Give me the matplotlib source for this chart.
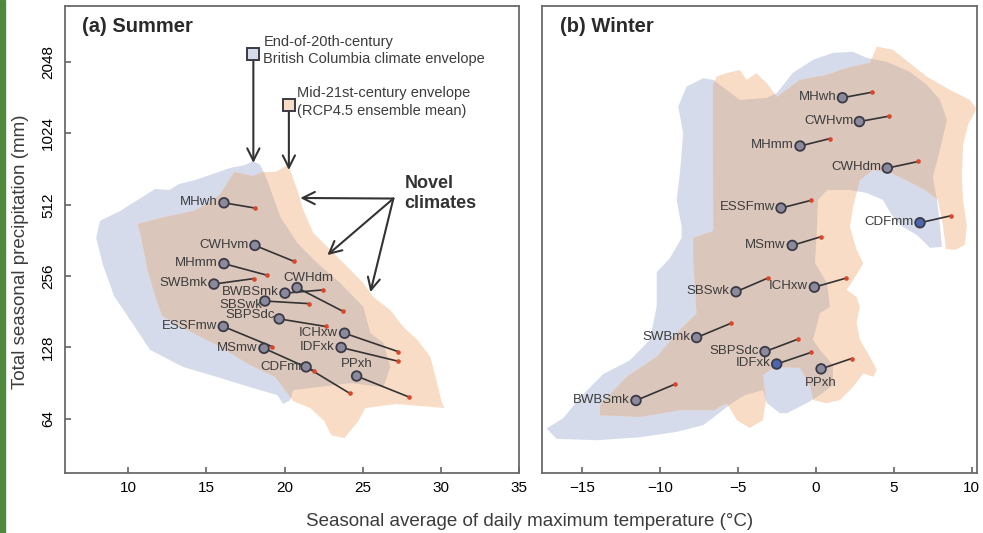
import matplotlib.pyplot as plt
from matplotlib.patches import Rectangle
from matplotlib.ticker import NullLocator

plt.rcParams["font.family"] = ["Liberation Sans", "DejaVu Sans"]

units = ["MHwh", "CWHvm", "MHmm", "SWBmk", "CWHdm", "BWBSmk", "SBSwk",
         "SBPSdc", "ESSFmw", "MSmw", "CDFmm", "ICHxw", "IDFxk", "PPxh"]

# summer: end-of-20th-century (circle) and mid-21st-century (red dot)
summer_temp_now = [16.12, 18.10, 16.12, 15.48, 20.79, 20.02, 18.74, 19.65, 16.08, 18.68, 21.37, 23.83, 23.61, 24.60]
summer_prec_now = [522, 345, 289, 237, 229, 217, 201, 169, 157, 127, 106, 147, 128, 97]
summer_temp_fut = [18.10, 20.57, 18.90, 18.04, 23.72, 22.47, 21.56, 22.62, 19.21, 21.89, 24.16, 27.25, 27.25, 27.97]
summer_prec_fut = [496, 296, 258, 250, 182, 224, 196, 157, 129, 102, 82, 123, 112, 79]

# winter
winter_temp_now = [1.70, 2.79, -1.02, -7.66, 4.58, -11.55, -5.13, -3.27, -2.24, -1.52, 6.68, -0.10, -2.52, 0.33]
winter_prec_now = [1448, 1149, 906, 141, 731, 76.5, 220, 123, 496, 345, 430, 230, 109, 104]
winter_temp_fut = [3.58, 4.69, 0.90, -5.45, 6.58, -9.05, -3.10, -1.13, -0.34, 0.30, 8.65, 1.93, -0.32, 2.29]
winter_prec_fut = [1527, 1211, 974, 162, 780, 89.6, 251, 139, 534, 375, 460, 251, 122, 115]

# climate envelopes (outline vertices, temperature / precipitation)
summer_bc_temp = [8.20, 9.48, 11.72, 12.62, 13.26, 14.28, 15.24, 16.52, 17.48, 17.99, 18.44, 18.89,
                  19.72, 20.81, 22.09, 23.56, 25.03, 25.48, 26.31, 26.76, 26.31, 24.20, 22.09, 20.55,
                  20.36, 19.91, 19.53, 17.80, 15.69, 13.51, 11.40, 10.38, 9.10, 8.39, 7.95]
summer_bc_prec = [438, 482, 597, 591, 627, 651, 684, 732, 754, 783, 754, 651,
                  455, 353, 291, 239, 190, 147, 134, 106, 87, 90.6, 87, 84.6,
                  76.8, 73.9, 80.6, 87, 96, 106, 125, 158, 211, 285, 371]
summer_fut_temp = [10.61, 12.36, 14.15, 15.05, 15.88, 16.77, 17.99, 18.57, 19.40, 20.23, 20.81, 21.19,
                   21.83, 22.92, 24.20, 25.03, 25.67, 26.76, 27.59, 28.48, 29.31, 29.70, 30.02, 30.21,
                   28.67, 27.14, 25.16, 24.71, 23.81, 22.98, 22.53, 21.64, 20.55, 19.40, 17.67, 15.88,
                   14.15, 12.17, 11.72, 11.27, 10.83]
summer_fut_prec = [425, 455, 482, 516, 568, 704, 677, 704, 704, 754, 591, 487,
                   390, 330, 272, 239, 209, 184, 156, 138, 117, 93, 76, 71.1,
                   72.5, 73.9, 71.1, 62.6, 53.1, 54.6, 62.6, 71.1, 76, 96, 109, 129,
                   147, 174, 211, 266, 371]

winter_bc_temp = [-8.30, -7.23, -6.59, -4.88, -3.15, -2.50, -1.48, -0.19, 1.09, 2.37, 3.27, 4.56,
                  6.03, 7.12, 7.96, 8.41, 7.96, 7.51, 7.77, 7.96, 8.09, 7.32, 6.48, 5.58,
                  4.94, 4.30, 3.27, 2.18, 0.71, 0.13, 0.06, -0.06, 0.71, 0.90, 0.26, -0.19,
                  0.26, 1.09, 1.09, 0.26, -0.58, -1.86, -2.31, -3.15, -3.40, -4.56, -5.52, -6.37,
                  -7.23, -8.94, -11.30, -14.08, -16.64, -17.29, -16.22, -15.15, -13.65, -11.94, -10.65, -10.22,
                  -10.22, -9.37, -8.62, -8.62, -8.94, -8.73, -8.52, -8.84]
winter_bc_prec = [1614, 1751, 1723, 1418, 1446, 1518, 1844, 2092, 2240, 2262, 2133, 2051,
                  1862, 1641, 1418, 1167, 872, 671, 537, 421, 340, 337, 382, 413,
                  455, 537, 574, 591, 591, 537, 401, 291, 239, 190, 179, 138,
                  125, 108, 88.8, 80.6, 74.6, 67.6, 67.6, 74.6, 84.6, 80.6, 73.5, 66.5,
                  60.2, 56.4, 53.5, 52.0, 52.7, 58.3, 64.4, 78.6, 98.9, 113, 138, 191,
                  266, 305, 371, 414, 537, 695, 1026, 1329]
winter_fut_temp = [-6.37, -5.73, -4.88, -4.45, -3.81, -3.16, -2.50, -1.03, 0.71, 1.99, 3.47, 3.90,
                   4.96, 6.03, 7.11, 8.60, 9.88, 10.27, 10.21, 9.76, 9.44, 9.37, 9.44, 9.69,
                   9.56, 8.92, 8.34, 8.15, 7.83, 7.00, 6.03, 4.94, 3.66, 2.82, 2.39, 2.18,
                   2.61, 3.04, 2.39, 1.97, 2.61, 2.82, 2.61, 2.82, 3.47, 3.90, 3.68, 3.04,
                   2.39, 1.54, 0.69, -0.17, -0.39, -1.03, -2.63, -3.40, -3.21, -3.40, -4.24, -5.07,
                   -5.73, -6.59, -8.73, -11.30, -13.86, -13.86, -12.15, -10.22, -8.73, -7.66, -7.88, -7.88,
                   -6.59, -6.61, -6.61]
winter_fut_prec = [1779, 1839, 1899, 1723, 1839, 1668, 1460, 1723, 1809, 1936, 2032, 2381,
                   2306, 2026, 1779, 1563, 1418, 1312, 1262, 1112, 916, 684, 537, 421,
                   347, 330, 333, 421, 537, 591, 639, 691, 718, 651, 503, 414,
                   330, 290, 246, 224, 209, 190, 162, 138, 117, 103, 96.3, 99.5,
                   87.4, 76.8, 74.4, 76.8, 88.8, 105, 106, 97.9, 76.8, 63.2, 58.5, 63.2,
                   74.4, 69.6, 69.6, 65.2, 66.3, 73.1, 96.3, 117, 152, 178, 300, 371,
                   397, 872, 1641]

prec_ticks = [64, 128, 256, 512, 1024, 2048]
summer_ticks = [10, 15, 20, 25, 30, 35]
winter_ticks = [-15, -10, -5, 0, 5, 10]

blue = "#d5dbea"
orange = "#f9dcc5"
overlap = "#dbc6bc"
dark = "#333333"

# label offsets (points) that differ from the default left placement
summer_offsets = {"CWHdm": (8, 7, "center"), "PPxh": (0, 9, "center"), "SBSwk": (-2, -3, "right"),
                  "SBPSdc": (-3, 2.5, "right"), "CDFmm": (2.5, 0, "right")}
winter_offsets = {"PPxh": (0, -10, "center")}
winter_blue = ["CDFmm", "IDFxk"]

fig = plt.figure(figsize=(9.83, 5.33), dpi=100)
fig.patches.append(Rectangle((0, 0), 4.5 / 983, 1, transform=fig.transFigure, color="#4f8a3c"))
ax_s = fig.add_axes([0.0658, 0.1135, 0.4625, 0.8752])
ax_w = fig.add_axes([0.5511, 0.1135, 0.4425, 0.8752])


def draw_panel(ax, bc_t, bc_p, fut_t, fut_p, t_now, p_now, t_fut, p_fut, offsets, blue_units):
    ax.set_yscale("log", base=2)
    bc = ax.fill(bc_t, bc_p, color=blue, lw=0, zorder=1)[0]
    ax.fill(fut_t, fut_p, color=orange, lw=0, zorder=1.1)
    both = ax.fill(fut_t, fut_p, color=overlap, lw=0, zorder=1.2)[0]
    both.set_clip_path(bc)
    for i in range(len(units)):
        ax.plot([t_now[i], t_fut[i]], [p_now[i], p_fut[i]], color=dark, lw=1.2, zorder=3)
    ax.plot(t_fut, p_fut, "o", ms=3.3, color="#d9472b", mec="none", zorder=4)
    faces = ["#4a66b0" if u in blue_units else "#8a8a9c" for u in units]
    ax.scatter(t_now, p_now, s=48, c=faces, edgecolors="#3a3a46", linewidths=1.3, zorder=5)
    for i, u in enumerate(units):
        dx, dy, ha = offsets.get(u, (-4.5, 0.5, "right"))
        ax.annotate(u, (t_now[i], p_now[i]), xytext=(dx, dy), textcoords="offset points",
                    ha=ha, va="center", fontsize=9.5, color="#3c3c3c", zorder=4.5)
    ax.set_ylim(38, 3530)
    ax.yaxis.set_minor_locator(NullLocator())
    for sp in ax.spines.values():
        sp.set_color("#6a6a6a")
        sp.set_linewidth(1.3)
    ax.tick_params(direction="in", length=4, width=1.1, color="#555555", labelsize=11, pad=6)


draw_panel(ax_s, summer_bc_temp, summer_bc_prec, summer_fut_temp, summer_fut_prec,
           summer_temp_now, summer_prec_now, summer_temp_fut, summer_prec_fut, summer_offsets, [])
draw_panel(ax_w, winter_bc_temp, winter_bc_prec, winter_fut_temp, winter_fut_prec,
           winter_temp_now, winter_prec_now, winter_temp_fut, winter_prec_fut, winter_offsets, winter_blue)

ax_s.set_xlim(5.94, 35.0)
ax_s.set_xticks(summer_ticks)
ax_s.set_yticks(prec_ticks)
ax_s.set_yticklabels([str(p) for p in prec_ticks], rotation=90, va="center")
ax_s.tick_params(axis="y", pad=7)

ax_w.set_xlim(-17.6, 10.32)
ax_w.set_xticks(winter_ticks)
ax_w.set_yticks([])

# legend-like annotations in the summer panel
ax_s.plot(18.0, 2208, "s", ms=8.6, mfc=blue, mec="#3a3a46", mew=1.4, zorder=6)
ax_s.plot(20.27, 1346, "s", ms=8.6, mfc=orange, mec="#3a3a46", mew=1.4, zorder=6)
arrow = dict(arrowstyle="->", color=dark, lw=1.5, mutation_scale=22, shrinkA=0, shrinkB=0)
ax_s.annotate("", xy=(18.0, 769), xytext=(18.0, 2072), arrowprops=arrow)
ax_s.annotate("", xy=(20.27, 718), xytext=(20.27, 1262), arrowprops=arrow)
ax_s.text(0.437, 0.904, "End-of-20th-century\nBritish Columbia climate envelope",
          transform=ax_s.transAxes, fontsize=10.5, va="center", color="#3c3c3c", linespacing=1.3)
ax_s.text(0.511, 0.794, "Mid-21st-century envelope\n(RCP4.5 ensemble mean)",
          transform=ax_s.transAxes, fontsize=10.5, va="center", color="#3c3c3c", linespacing=1.3)
ax_s.text(0.747, 0.598, "Novel\nclimates", transform=ax_s.transAxes, fontsize=13,
          fontweight="bold", va="center", color="#333333", linespacing=1.2)
for target in [(21.0, 547), (22.73, 314), (25.48, 219)]:
    ax_s.annotate("", xy=target, xytext=(26.95, 544), arrowprops=arrow)

ax_s.text(0.038, 0.956, "(a) Summer", transform=ax_s.transAxes, fontsize=14.5,
          fontweight="bold", va="center", color="#2a2a2a")
ax_w.text(0.042, 0.956, "(b) Winter", transform=ax_w.transAxes, fontsize=14.5,
          fontweight="bold", va="center", color="#2a2a2a")

fig.text(0.021, 0.528, "Total seasonal precipitation (mm)", rotation=90,
         ha="center", va="center", fontsize=13.5, color="#3c3c3c")
fig.text(0.539, 0.0225, "Seasonal average of daily maximum temperature (\u00b0C)",
         ha="center", va="center", fontsize=13.5, color="#3c3c3c")

fig.savefig("out.png", dpi=100)
